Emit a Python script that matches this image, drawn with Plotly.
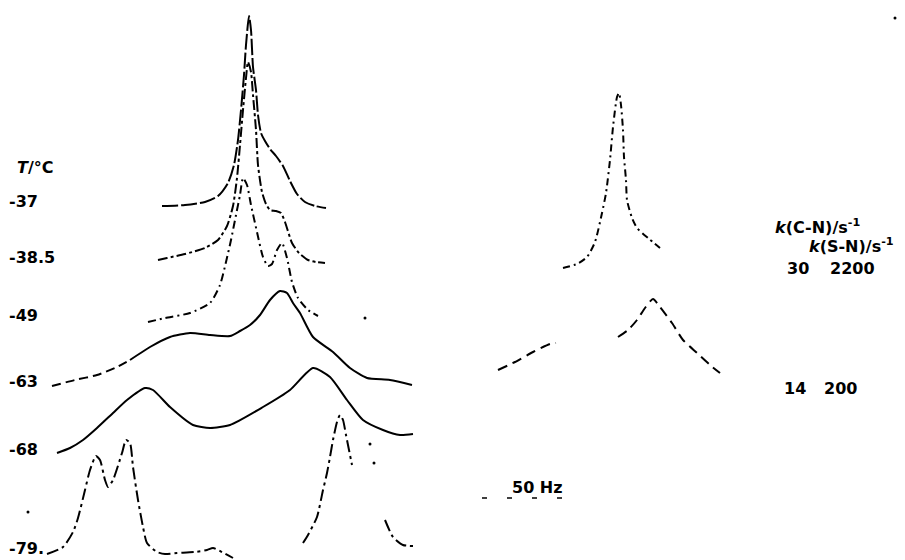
import plotly.graph_objects as go

temps = ["-37", "-38.5", "-49", "-63", "-68", "-79."]

t37_x = [162, 185, 205, 218, 228, 234, 238, 241, 244, 246, 249, 251, 253, 256, 258, 261, 265, 270, 276, 283, 290, 297, 305, 315, 326]
t37_y = [206, 205, 202, 196, 183, 165, 140, 110, 75, 45, 16, 30, 67, 90, 115, 133, 141, 149, 156, 166, 181, 194, 202, 206, 208]

t385_x = [158, 167, 185, 205, 218, 227, 233, 237, 240, 243, 246, 248, 251, 253, 256, 258, 262, 266, 270, 276, 281, 285, 292, 299, 308, 316, 325]
t385_y = [260, 258, 254, 248, 240, 226, 206, 178, 145, 110, 78, 62, 72, 95, 130, 165, 192, 204, 210, 211, 213, 222, 243, 253, 260, 262, 263]

t49_x = [148, 165, 190, 210, 220, 226, 231, 236, 240, 243, 247, 251, 257, 263, 268, 272, 277, 282, 287, 292, 298, 308, 318, None, 365]
t49_y = [322, 318, 313, 303, 285, 262, 240, 215, 195, 178, 185, 205, 232, 257, 266, 264, 250, 243, 258, 282, 298, 310, 316, None, 318]

t63_x = [52, 75, 97, 115, 130, 150, 170, 190, 210, 230, 240, 250, 260, 270, 280, 287, 293, 300, 313, 333, 350, 367, 390, 412]
t63_y = [386, 380, 375, 368, 360, 347, 337, 333, 335, 336, 331, 325, 315, 300, 291, 293, 303, 313, 337, 352, 368, 378, 380, 385]

t68_x = [57, 70, 83, 97, 113, 127, 145, 153, 170, 193, 210, 230, 263, 290, 313, 330, 347, 363, 383, 400, 413]
t68_y = [453, 448, 440, 428, 413, 400, 388, 390, 407, 425, 428, 425, 407, 390, 368, 377, 400, 420, 430, 435, 434]

t79_x = [47, 63, 73, 78, 85, 90, 96, 100, 105, 108, 113, 122, 126, 130, 133, 138, 143, 147, 157, 165, 177, 195, 207, 213, 222, 233,
         None, 303, 308, 317, 323, 327, 330, 333, 337, 340, 343, 346, 349, 352, None, 385, 393, 403, 413]
t79_y = [554, 547, 532, 518, 490, 470, 456, 460, 480, 487, 480, 453, 440, 443, 467, 500, 527, 543, 552, 554, 553, 552, 550, 548, 552, 558,
         None, 543, 535, 517, 490, 473, 457, 440, 422, 415, 420, 435, 450, 465, None, 520, 537, 545, 546]

# ---- simulated spectra ----
rates_cn = ["30", "14"]
rates_sn = ["2200", "200"]

sim1_x = [563, 577, 587, 595, 602, 606, 610, 613, 617, 619, 621, 623, 624, 626, 627, 632, 637, 648, 660, None, 708]
sim1_y = [268, 264, 257, 242, 213, 193, 160, 127, 97, 93, 105, 130, 157, 180, 200, 218, 228, 238, 248, None, 275]

sim2_x = [498, 515, 533, 550, 556, None, 618, 628, 637, 645, 653, 660, 672, 683, 697, 710, 720]
sim2_y = [370, 362, 352, 344, 343, None, 337, 330, 320, 308, 299, 307, 323, 340, 353, 365, 373]

speck_x = [28, 370, 374, 895, 365]
speck_y = [512, 444, 463, 18, 318]

scale_label = "50 Hz"
scale_x = [482, 582]

fig = go.Figure()

styles = [
    (t37_x, t37_y, "16px,3px"),
    (t385_x, t385_y, "10px,3px,3px,3px"),
    (t49_x, t49_y, "8px,4px,2px,4px"),
    (t63_x[:5], t63_y[:5], "9px,5px"),
    (t63_x[4:], t63_y[4:], "solid"),
    (t68_x, t68_y, "solid"),
    (t79_x, t79_y, "12px,4px,3px,4px"),
    (sim1_x, sim1_y, "7px,4px,2px,4px"),
    (sim2_x, sim2_y, "10px,6px"),
]
for xs, ys, dash in styles:
    fig.add_trace(go.Scatter(x=xs, y=ys, mode="lines",
                             line=dict(color="black", width=2, dash=dash, shape="spline", smoothing=0.6),
                             connectgaps=False, hoverinfo="skip", showlegend=False))

fig.add_trace(go.Scatter(x=speck_x, y=speck_y, mode="markers",
                         marker=dict(color="black", size=3), hoverinfo="skip", showlegend=False))

# 50 Hz scale bar
fig.add_trace(go.Scatter(x=scale_x, y=[498, 498], mode="lines",
                         line=dict(color="black", width=1.6, dash="5px,20px"),
                         hoverinfo="skip", showlegend=False))

font = dict(family="DejaVu Sans, Liberation Sans, sans-serif", size=16, color="black")
label_y = [201, 257, 315, 381, 449, 548]


def ann(x, y, text, size=16):
    f = dict(font)
    f["size"] = size
    return dict(x=x, y=y, text=text, xanchor="left", yanchor="middle", showarrow=False, font=f)


anns = [ann(15, 167, "<b><i>T</i>/°C</b>")]
for t, yv in zip(temps, label_y):
    anns.append(ann(7, yv, "<b>" + t + "</b>"))
anns += [
    ann(773, 226, "<b><i>k</i>(C-N)/s<sup>-1</sup></b>"),
    ann(807, 245, "<b><i>k</i>(S-N)/s<sup>-1</sup></b>"),
    ann(785, 268, "<b>" + rates_cn[0] + "</b>"),
    ann(828, 268, "<b>" + rates_sn[0] + "</b>"),
    ann(782, 388, "<b>" + rates_cn[1] + "</b>"),
    ann(822, 388, "<b>" + rates_sn[1] + "</b>"),
    ann(510, 487, "<b>" + scale_label + "</b>"),
]

fig.update_layout(
    width=905, height=560,
    margin=dict(l=0, r=0, t=0, b=0),
    paper_bgcolor="white", plot_bgcolor="white",
    xaxis=dict(range=[0, 905], visible=False, fixedrange=True),
    yaxis=dict(range=[560, 0], visible=False, fixedrange=True),
    annotations=anns,
)

fig.write_html("out.html", config={"displayModeBar": False, "staticPlot": True},
               post_script="document.body.style.margin='0';document.body.style.overflow='hidden';")
